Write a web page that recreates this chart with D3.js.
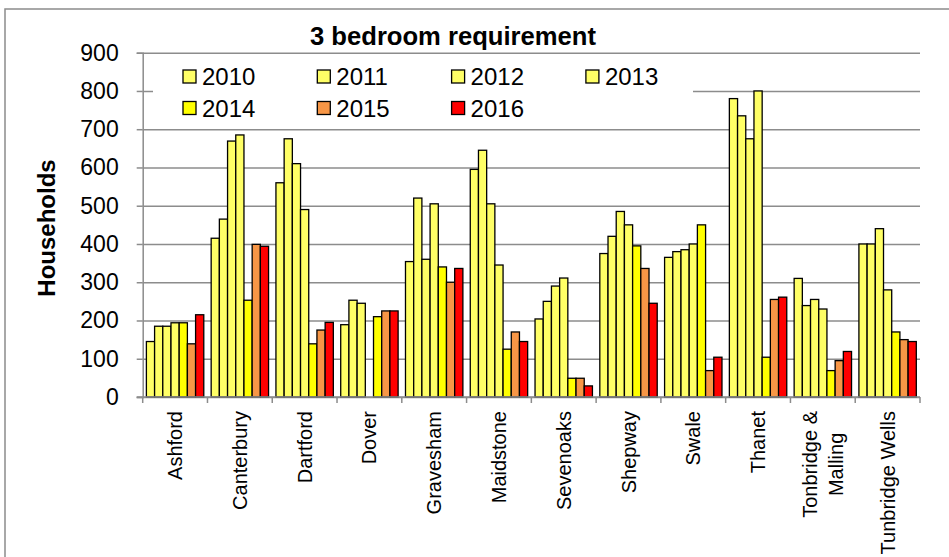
<!DOCTYPE html>
<html>
<head>
<meta charset="utf-8">
<script src="https://cdn.jsdelivr.net/npm/d3@7"></script>
<style>
  body { margin: 0; background: #fff; }
  svg text { font-family: "Liberation Sans", Arial, sans-serif; fill: #000; }
</style>
</head>
<body>
<svg id="chart" width="949" height="557"></svg>
<script>
// districts on the x axis
const districts = ["Ashford", "Canterbury", "Dartford", "Dover", "Gravesham", "Maidstone",
  "Sevenoaks", "Shepway", "Swale", "Thanet", "Tonbridge & Malling", "Tunbridge Wells"];
const years = ["2010", "2011", "2012", "2013", "2014", "2015", "2016"];
const yearColors = ["#ffff66", "#ffff66", "#ffff66", "#ffff66", "#ffff00", "#f79646", "#ff0000"];

// households per year, one array per year in district order
const v2010 = [145, 415, 560, 189, 354, 595, 204, 375, 365, 780, 310, 400];
const v2011 = [185, 465, 675, 253, 520, 645, 250, 420, 380, 735, 239, 400];
const v2012 = [185, 669, 610, 245, 360, 505, 290, 485, 385, 675, 255, 440];
const v2013 = [194, 685, 490, 0, 505, 345, 311, 450, 400, 800, 230, 280];
const v2014 = [194, 253, 139, 210, 340, 125, 49, 395, 450, 104, 69, 170];
const v2015 = [139, 399, 175, 225, 300, 170, 49, 336, 69, 255, 95, 150];
const v2016 = [215, 394, 195, 225, 336, 145, 29, 245, 104, 261, 119, 145];
const yTicks = [0, 100, 200, 300, 400, 500, 600, 700, 800, 900];

const series = [v2010, v2011, v2012, v2013, v2014, v2015, v2016];

document.addEventListener("DOMContentLoaded", () => {
    const svg = d3.select("#chart");
    const left = 142.7, right = 920, top = 52.7, bottom = 397;

    // outer chart border (runs off the picture on right and bottom)
    svg.append("rect")
        .attr("x", 5).attr("y", 9)
        .attr("width", 980).attr("height", 600)
        .attr("fill", "none")
        .attr("stroke", "#8c8c8c")
        .attr("stroke-width", 1.5);

    const y = d3.scaleLinear().domain([0, 900]).range([bottom, top]);
    const x0 = d3.scaleBand().domain(districts).range([left, right]).padding(0);
    const x1 = d3.scaleBand().domain(years).range([0, x0.bandwidth()]).paddingInner(0).paddingOuter(0.45);

    // gridlines
    svg.append("g")
        .attr("transform", `translate(${left},0)`)
        .call(d3.axisLeft(y).tickValues(yTicks).tickSize(-(right - left)).tickFormat(""))
        .call(g => g.select(".domain").remove())
        .call(g => g.selectAll("line").attr("stroke", "#8c8c8c").attr("stroke-width", 1.5));

    // y axis
    svg.append("g")
        .attr("transform", `translate(${left},0)`)
        .call(d3.axisLeft(y).tickValues(yTicks).tickSize(6).tickPadding(18))
        .call(g => g.select(".domain").attr("stroke", "#8c8c8c").attr("stroke-width", 1.5))
        .call(g => g.selectAll("line").attr("stroke", "#8c8c8c").attr("stroke-width", 1.5))
        .call(g => g.selectAll("text")
            .style("font-size", "23px")
            .style("font-family", "Liberation Sans, Arial, sans-serif"));

    // legend box covers the gridline behind it
    const legend = svg.append("g");
    legend.append("rect")
        .attr("x", 153).attr("y", 56)
        .attr("width", 540).attr("height", 70)
        .attr("fill", "#fff");

    const legItems = legend.selectAll(".leg")
        .data(years)
        .enter()
        .append("g")
        .attr("class", "leg")
        .attr("transform", (d, i) => `translate(${183 + (i % 4) * 134.3}, ${70 + Math.floor(i / 4) * 31.5})`);
    legItems.append("rect")
        .attr("width", 13).attr("height", 13)
        .attr("fill", (d, i) => yearColors[i])
        .attr("stroke", "#000")
        .attr("stroke-width", 1.3);
    legItems.append("text")
        .attr("x", 19).attr("y", 15)
        .style("font-size", "24px")
        .text(d => d);

    // bars
    const groups = svg.selectAll(".district")
        .data(districts)
        .enter()
        .append("g")
        .attr("class", "district")
        .attr("transform", d => `translate(${x0(d)},0)`);

    groups.selectAll("rect")
        .data((d, di) => years.map((yr, yi) => ({ year: yr, idx: yi, value: series[yi][di] })))
        .enter()
        .filter(d => d.value > 0)
        .append("rect")
        .attr("x", d => x1(d.year))
        .attr("y", d => y(d.value))
        .attr("width", x1.bandwidth())
        .attr("height", d => y(0) - y(d.value))
        .attr("fill", d => yearColors[d.idx])
        .attr("stroke", "#000")
        .attr("stroke-width", 1.3);

    // x axis line and category boundary ticks
    const xAxis = svg.append("g");
    xAxis.append("line")
        .attr("x1", left - 6).attr("x2", right)
        .attr("y1", y(0)).attr("y2", y(0))
        .attr("stroke", "#8c8c8c").attr("stroke-width", 1.5);
    xAxis.selectAll(".xtick")
        .data(districts.concat(["end"]))
        .enter()
        .append("line")
        .attr("x1", d => d === "end" ? right : x0(d))
        .attr("x2", d => d === "end" ? right : x0(d))
        .attr("y1", y(0)).attr("y2", y(0) + 6)
        .attr("stroke", "#8c8c8c").attr("stroke-width", 1.5);

    // rotated category labels
    const labelTop = 411;
    districts.forEach(name => {
        const lines = name.includes(" & ") ? [name.split(" & ")[0] + " &", name.split(" & ")[1]] : [name];
        const g = svg.append("g")
            .attr("transform", `translate(${x0(name) + x0.bandwidth() / 2},${labelTop}) rotate(-90)`);
        const texts = lines.map((ln, i) => g.append("text")
            .style("font-size", "20px")
            .attr("dy", "0.35em")
            .attr("y", (i - (lines.length - 1) / 2) * 26)
            .text(ln));
        const maxLen = d3.max(texts, t => t.node().getComputedTextLength());
        texts.forEach(t => t.attr("text-anchor", "middle").attr("x", -maxLen / 2));
    });

    // title
    svg.append("text")
        .attr("x", 453)
        .attr("y", 45)
        .attr("text-anchor", "middle")
        .attr("textLength", 286)
        .attr("lengthAdjust", "spacingAndGlyphs")
        .style("font-size", "25px")
        .style("font-weight", "bold")
        .text("3 bedroom requirement");

    // y axis title
    svg.append("text")
        .attr("transform", "translate(47,228) rotate(-90)")
        .attr("text-anchor", "middle")
        .attr("dy", "0.35em")
        .style("font-size", "24px")
        .style("font-weight", "bold")
        .text("Households");
});
</script>
</body>
</html>
